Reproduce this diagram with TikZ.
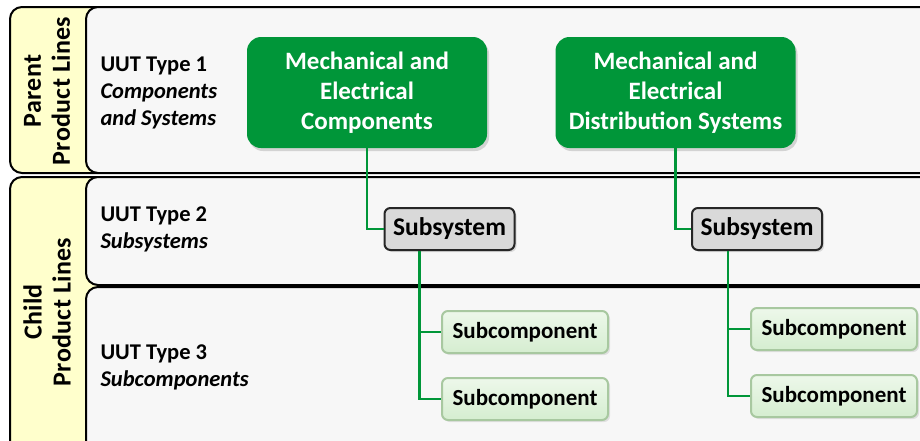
\documentclass[tikz,border=0pt]{standalone}
\usepackage{fontspec}
\setmainfont{Carlito}
\usetikzlibrary{calc, shadows}

\definecolor{tabyellow}{RGB}{255,255,204}
\definecolor{panelgrey}{RGB}{247,247,247}
\definecolor{mgreen}{RGB}{0,150,57}
\definecolor{subgrey}{RGB}{217,217,217}
\definecolor{subtop}{RGB}{237,248,234}
\definecolor{subbot}{RGB}{213,237,208}
\definecolor{subedge}{RGB}{168,200,160}

\begin{document}
\begin{tikzpicture}[x=1pt,y=-1pt,
  tab/.style={draw=black,line width=2pt,fill=tabyellow,rounded corners=12pt},
  panel/.style={draw=black,line width=2pt,fill=panelgrey,rounded corners=12pt},
  parentbox/.style={fill=mgreen,rounded corners=14pt,text=white,align=center,
    font=\bfseries\fontsize{25}{30}\selectfont,minimum width=240pt,minimum height=111pt,
    drop shadow={opacity=0.3,shadow xshift=2pt,shadow yshift=-3pt}},
  subsys/.style={draw=black!85,line width=2pt,fill=subgrey,rounded corners=6pt,
    font=\bfseries\fontsize{25.5}{28}\selectfont,minimum width=130pt,minimum height=42pt,
    drop shadow={opacity=0.25,shadow xshift=2pt,shadow yshift=-2pt}},
  subcomp/.style={draw=subedge,line width=2pt,top color=subtop,bottom color=subbot,rounded corners=6pt,
    font=\bfseries\fontsize{23}{25}\selectfont,minimum width=166pt,minimum height=42pt,
    drop shadow={opacity=0.2,shadow xshift=2pt,shadow yshift=-2pt}},
  uut/.style={anchor=west,align=left,font=\bfseries\fontsize{22.5}{27}\selectfont},
  side/.style={rotate=90,align=center,
    font=\bfseries\fontsize{26}{29}\selectfont\addfontfeatures{LetterSpace=1.2}},
  link/.style={draw=mgreen,line width=2.2pt}]
  \clip (0,0) rectangle (920,440);
  \fill[white] (0,0) rectangle (920,440);
  % side tabs
  \draw[tab] (10,7) rectangle (110,173);
  \draw[tab] (10,177) rectangle (110,470);
  % rows
  \draw[panel] (86,7) rectangle (950,173);
  \draw[panel] (86,177) rectangle (950,285);
  \draw[panel] (86,287) rectangle (950,470);
  \node[side] (parent) at (47,91) {Parent\\Product Lines};
  \node[side] (child) at (47,312) {Child\\Product Lines};
  \node[uut] (uut1) at (97,93) {UUT Type 1\\\textit{Components}\\\textit{and Systems}};
  \node[uut] (uut2) at (97,229) {UUT Type 2\\\textit{Subsystems}};
  \node[uut] (uut3) at (97,367) {UUT Type 3\\\textit{Subcomponents}};
  % boxes
  \node[parentbox] (mech1) at (367,92.5) {Mechanical and\\Electrical\\Components};
  \node[parentbox] (mech2) at (675.5,92.5) {Mechanical and\\Electrical\\Distribution Systems};
  \node[subsys] (sys1) at (449.5,229) {Subsystem};
  \node[subsys] (sys2) at (757,229) {Subsystem};
  \node[subcomp] (sc1) at (525,332) {Subcomponent};
  \node[subcomp] (sc2) at (525,399) {Subcomponent};
  \node[subcomp] (sc3) at (834,329) {Subcomponent};
  \node[subcomp] (sc4) at (834,396) {Subcomponent};
  % links
  \draw[link] (mech1.south) |- (sys1.west);
  \draw[link] (mech2.south) |- (sys2.west);
  \coordinate (tap1) at ([xshift=-30pt]sys1.south);
  \coordinate (tap2) at ([xshift=-29pt]sys2.south);
  \draw[link] (tap1) |- (sc1.west);
  \draw[link] (tap1) |- (sc2.west);
  \draw[link] (tap2) |- (sc3.west);
  \draw[link] (tap2) |- (sc4.west);
\end{tikzpicture}
\end{document}
